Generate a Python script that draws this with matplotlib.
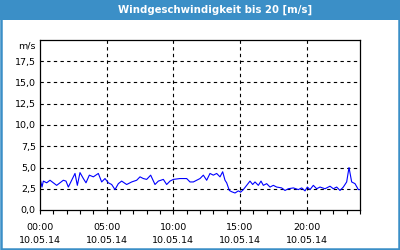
import numpy as np
import matplotlib
matplotlib.use("Agg")
import matplotlib.pyplot as plt
from matplotlib.patches import Rectangle
from matplotlib.ticker import MultipleLocator, FixedLocator

# hours since 10.05.14 00:00 and wind speed in m/s
hours = [0.05, 0.15, 0.25, 0.5, 0.75, 1.0, 1.25, 1.5, 1.75, 1.95,
         2.125, 2.375, 2.625, 2.8, 3.0, 3.25, 3.45, 3.7, 4.0, 4.375,
         4.625, 4.875, 5.125, 5.375, 5.625, 5.875, 6.125, 6.5, 6.875, 7.25,
         7.5, 7.75, 8.0, 8.3, 8.625, 8.875, 9.25, 9.5, 9.75, 10.0,
         10.5, 11.0, 11.25, 11.5, 11.75, 12.0, 12.25, 12.5, 12.75, 13.0,
         13.25, 13.5, 13.7, 13.875, 14.0, 14.2, 14.375, 14.625, 14.875, 15.05,
         15.25, 15.5, 15.75, 15.95, 16.125, 16.375, 16.575, 16.75, 17.0, 17.25,
         17.5, 17.75, 18.125, 18.375, 18.625, 19.0, 19.375, 19.625, 19.875, 20.05,
         20.25, 20.5, 20.75, 21.0, 21.375, 21.75, 22.0, 22.25, 22.5, 22.75,
         23.0, 23.175, 23.375, 23.625, 23.875, 24.0]
speed = [3.4, 2.7, 3.4, 3.2, 3.5, 3.2, 2.9, 3.2, 3.5, 3.4,
         2.7, 3.5, 4.3, 2.9, 4.4, 3.7, 3.2, 4.1, 3.9, 4.3,
         3.3, 3.7, 3.2, 3.0, 2.4, 3.1, 3.4, 3.0, 3.3, 3.5,
         3.9, 3.7, 3.6, 4.1, 3.0, 3.4, 3.6, 3.0, 3.4, 3.6,
         3.7, 3.7, 3.3, 3.3, 3.5, 3.7, 4.1, 3.5, 4.3, 4.1,
         4.3, 3.9, 4.5, 3.5, 3.2, 2.3, 2.15, 2.0, 2.25, 2.1,
         2.4, 2.9, 3.4, 3.0, 3.3, 2.9, 3.4, 2.9, 3.1, 2.7,
         2.9, 2.7, 2.6, 2.3, 2.5, 2.6, 2.4, 2.6, 2.25, 2.7,
         2.4, 2.9, 2.5, 2.7, 2.5, 2.8, 2.5, 2.7, 2.3, 2.7,
         3.3, 5.0, 3.3, 3.1, 2.4, 2.4]

xticks = [0, 5, 10, 15, 20]
xlabels = ["00:00\n10.05.14", "05:00\n10.05.14", "10:00\n10.05.14",
           "15:00\n10.05.14", "20:00\n10.05.14"]
yticks = [0, 2.5, 5, 7.5, 10, 12.5, 15, 17.5]
ylabels = ["0,0", "2,5", "5,0", "7,5", "10,0", "12,5", "15,0", "17,5"]

blue = "#3b8fc7"
plt.rcParams["font.family"] = "DejaVu Sans"

fig = plt.figure(figsize=(4, 2.5), dpi=100)
fig.patch.set_facecolor("white")

# frame and title bar
fig.patches.append(Rectangle((0.003, 0.005), 0.994, 0.99, transform=fig.transFigure,
                             fill=False, edgecolor=blue, linewidth=1.8, zorder=0))
fig.patches.append(Rectangle((0, 1 - 20 / 250), 1, 20 / 250, transform=fig.transFigure,
                             facecolor=blue, edgecolor="none", zorder=0))
fig.text(215.5 / 400, 1 - 10 / 250, "Windgeschwindigkeit bis 20 [m/s]", color="white",
         fontsize=7.3, fontweight="bold", ha="center", va="center")

ax = fig.add_axes([40 / 400, 1 - 210 / 250, 320 / 400, 170 / 250])
ax.plot(hours, speed, color="#0000ff", linewidth=0.8)

ax.set_xlim(0, 24)
ax.set_ylim(0, 20)
ax.xaxis.set_major_locator(FixedLocator(xticks))
ax.set_xticklabels(xlabels, linespacing=1.6)
ax.xaxis.set_minor_locator(MultipleLocator(1))
ax.set_yticks(yticks)
ax.set_yticklabels(ylabels)

ax.tick_params(axis="x", which="both", direction="out", length=3, width=0.8,
               labelsize=6.8, pad=6)
ax.tick_params(axis="y", length=0, labelsize=6.8, pad=3)

for s in ax.spines.values():
    s.set_linewidth(0.9)
    s.set_color("black")

for x in xticks[1:]:
    ax.axvline(x, color="black", linewidth=0.8, linestyle=(0, (3, 3)), zorder=1)
for y in yticks[1:]:
    ax.axhline(y, color="black", linewidth=0.8, linestyle=(0, (3, 3)), zorder=1)

fig.text(36 / 400, 1 - 46 / 250, "m/s", fontsize=6.8, ha="right", va="center")

fig.savefig("out.png", dpi=100)
